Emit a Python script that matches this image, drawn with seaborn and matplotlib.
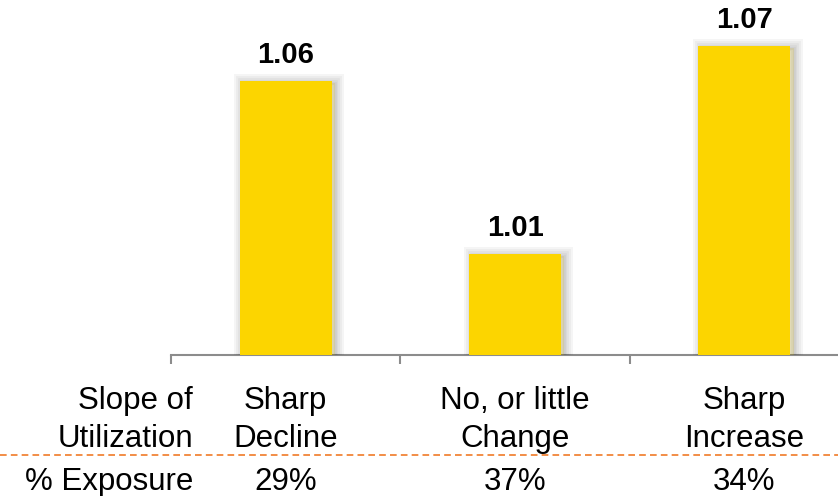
import matplotlib
matplotlib.use("Agg")
import matplotlib.pyplot as plt
import matplotlib.patheffects as pe
import matplotlib.transforms as mtransforms
from matplotlib.lines import Line2D
import seaborn as sns
import pandas as pd

# Data
categories = ["Sharp\nDecline", "No, or little\nChange", "Sharp\nIncrease"]
ratios = [1.06, 1.01, 1.07]
exposure = ["29%", "37%", "34%"]
row_label_top = "Slope of\nUtilization"
row_label_bottom = "% Exposure"

sns.set_theme(style="white")
plt.rcParams["font.family"] = ["Liberation Sans", "DejaVu Sans"]
plt.rcParams["text.color"] = "black"

W, H = 838, 496
fig = plt.figure(figsize=(W / 100, H / 100), dpi=100)
fig.patch.set_facecolor("white")

# Axes spans past the right edge so the last category sits near the border
ax_left, ax_right, ax_base = 171, 859, 355
ax = fig.add_axes([ax_left / W, (H - ax_base) / H,
                   (ax_right - ax_left) / W, ax_base / H])
ax.set_facecolor("none")

df = pd.DataFrame({"cat": categories, "ratio": ratios})
sns.barplot(data=df, x="cat", y="ratio", color="#FCD500", width=0.40,
            saturation=1, ax=ax, zorder=3)

# soft drop shadow around each bar
shadow = [pe.Stroke(linewidth=w, foreground="black", alpha=0.04, offset=(2.5, -1.5))
          for w in (13, 10, 7, 4, 2)] + [pe.Normal()]
for p in ax.patches:
    p.set_edgecolor("none")
    p.set_path_effects(shadow)

ymin = 0.9807
ax.set_ylim(ymin, ymin + ax_base / 3460)
ax.set_xlim(-0.5, 2.5)

for s in ("top", "right", "left"):
    ax.spines[s].set_visible(False)
ax.spines["bottom"].set_color("#8c8c8c")
ax.spines["bottom"].set_linewidth(1.5)
ax.set_xticks([-0.5, 0.5, 1.5, 2.5])
ax.set_xticklabels([])
ax.tick_params(axis="x", bottom=True, direction="out", length=6.5,
               width=1.5, color="#8c8c8c")
ax.set_yticks([])
ax.set_xlabel("")
ax.set_ylabel("")

# value labels above bars
for i, v in enumerate(ratios):
    ax.annotate(f"{v:.2f}", xy=(i, v), xytext=(0, 13), textcoords="offset points",
                ha="center", va="baseline", fontsize=21, fontweight="bold",
                color="black")

# category labels and exposure row under the axis
FS = 22.5
LS = 1.36
trans = mtransforms.blended_transform_factory(ax.transData, fig.transFigure)
for i, (c, e) in enumerate(zip(categories, exposure)):
    ax.text(i, 1 - 447 / H, c, transform=trans, ha="center", va="baseline",
            fontsize=FS, linespacing=LS, clip_on=False, color="black")
    ax.text(i, 1 - 490 / H, e, transform=trans, ha="center", va="baseline",
            fontsize=FS, clip_on=False, color="black")

fig.text(193 / W, 1 - 447 / H, row_label_top, ha="right", va="baseline",
         fontsize=FS, linespacing=LS, multialignment="right", color="black")
fig.text(193 / W, 1 - 490 / H, row_label_bottom, ha="right", va="baseline",
         fontsize=FS, color="black")

# dashed separator between rows
fig.add_artist(Line2D([0, 1], [1 - 455 / H, 1 - 455 / H], transform=fig.transFigure,
                      color="#F07A28", linewidth=1.2, linestyle=(0, (4, 2.5))))

fig.savefig("out.png", dpi=100, facecolor="white")
